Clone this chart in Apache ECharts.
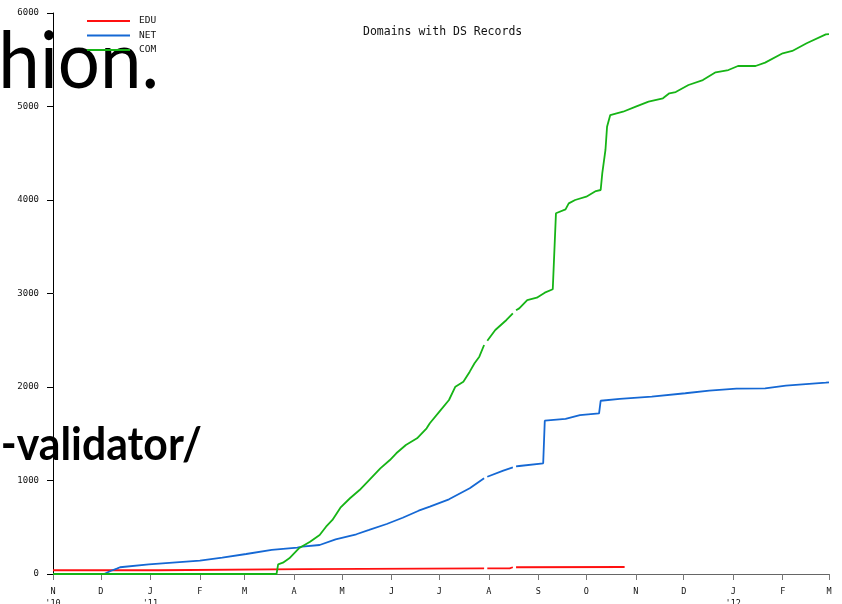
<!DOCTYPE html>
<html><head><meta charset="utf-8">
<script src="https://cdn.jsdelivr.net/npm/echarts@6/dist/echarts.min.js"></script>
<style>html,body{margin:0;padding:0;background:#fff}#c{width:842px;height:604px}</style>
</head><body><div id="c"></div>
<script>
const TITLE = 'Domains with DS Records';
const SERIES_NAMES = ['EDU', 'NET', 'COM'];
const X_TICK_LABELS = ["N\n'10", 'D', "J\n'11", 'F', 'M', 'A', 'M', 'J', 'J', 'A', 'S', 'O', 'N', 'D', "J\n'12", 'F', 'M'];
const X_START = '2010-11-01';
const X_END = '2012-03-01';
const OVERLAY_TEXT_1 = 'hion.';
const OVERLAY_TEXT_2 = '-validator/';

const EDU = [['2010-11-01',40],['2011-01-06',40],['2011-01-07',53],['2011-04-07',53],['2011-04-08',61],['2011-07-29',61],['2011-07-30',null],['2011-07-31',61],['2011-08-14',61],['2011-08-15',72],['2011-08-16',72],['2011-08-17',null],['2011-08-18',72],['2011-10-25',75]];

const NET = [['2010-12-03',0],['2010-12-07',32],['2010-12-11',57],['2010-12-13',72],['2010-12-31',104],['2011-02-01',142],['2011-02-15',174],['2011-03-02',214],['2011-03-18',257],['2011-04-03',281],['2011-04-06',292],['2011-04-17',310],['2011-04-27',371],['2011-05-10',425],['2011-05-18',471],['2011-05-29',535],['2011-06-08',602],['2011-06-18',677],['2011-06-25',720],['2011-07-07',799],['2011-07-20',917],['2011-07-29',1025],['2011-07-30',null],['2011-07-31',1040],['2011-08-10',1105],['2011-08-16',1140],['2011-08-17',null],['2011-08-18',1150],['2011-08-20',1155],['2011-09-04',1184],['2011-09-05',1640],['2011-09-18',1658],['2011-09-27',1700],['2011-10-09',1719],['2011-10-10',1853],['2011-10-22',1872],['2011-11-11',1897],['2011-12-02',1933],['2011-12-17',1961],['2012-01-03',1982],['2012-01-21',1986],['2012-02-03',2014],['2012-02-28',2046],['2012-03-01',2050]];

const COM = [['2010-11-01',0],['2011-03-21',0],['2011-03-22',104],['2011-03-25',121],['2011-03-29',168],['2011-04-04',275],['2011-04-11',345],['2011-04-17',417],['2011-04-21',506],['2011-04-25',578],['2011-04-30',709],['2011-05-06',810],['2011-05-12',898],['2011-05-18',1005],['2011-05-25',1130],['2011-05-31',1219],['2011-06-04',1291],['2011-06-10',1380],['2011-06-17',1451],['2011-06-23',1558],['2011-06-25',1612],['2011-07-01',1736],['2011-07-07',1861],['2011-07-11',2003],['2011-07-16',2057],['2011-07-20',2164],['2011-07-23',2254],['2011-07-26',2324],['2011-07-29',2449],['2011-07-30',null],['2011-07-31',2495],['2011-08-05',2610],['2011-08-12',2717],['2011-08-16',2788],['2011-08-17',null],['2011-08-18',2820],['2011-08-20',2841],['2011-08-25',2930],['2011-08-31',2955],['2011-09-05',3009],['2011-09-10',3045],['2011-09-12',3858],['2011-09-18',3900],['2011-09-20',3964],['2011-09-24',4000],['2011-10-01',4035],['2011-10-07',4096],['2011-10-10',4107],['2011-10-11',4285],['2011-10-13',4535],['2011-10-14',4784],['2011-10-16',4909],['2011-10-24',4944],['2011-11-01',4998],['2011-11-09',5052],['2011-11-18',5088],['2011-11-22',5141],['2011-11-26',5155],['2011-12-04',5230],['2011-12-13',5283],['2011-12-21',5366],['2011-12-29',5390],['2012-01-04',5433],['2012-01-15',5433],['2012-01-21',5469],['2012-02-01',5569],['2012-02-07',5594],['2012-02-16',5676],['2012-02-28',5772],['2012-03-01',5775]];

const COLORS = ['#ff1010', '#1568d4', '#16b416'];
const MONO = '"DejaVu Sans Mono", "Liberation Mono", monospace';
const DAY = 86400000;

const chart = echarts.init(document.getElementById('c'));
const startDate = new Date(2010, 10, 1);
function monthIndex(v) {
  const d = new Date(v);
  return (d.getFullYear() - startDate.getFullYear()) * 12 + d.getMonth() - startDate.getMonth();
}
const seriesData = [EDU, NET, COM];
chart.setOption({
  animation: false,
  backgroundColor: '#fff',
  graphic: [
    { type: 'text', z: -10, x: 159, y: 22, scaleX: 0.93, style: { text: OVERLAY_TEXT_1, font: '80px Lato', fill: '#000', align: 'right', verticalAlign: 'top' } },
    { type: 'text', z: -10, x: 202, y: 423, scaleX: 0.95, style: { text: OVERLAY_TEXT_2, font: 'bold 45px Lato', fill: '#000', align: 'right', verticalAlign: 'top' } }
  ],
  title: {
    text: TITLE, left: 363, top: 26, padding: 0,
    textStyle: { fontFamily: MONO, fontSize: 11.5, fontWeight: 'normal', color: '#111' }
  },
  legend: {
    data: SERIES_NAMES, orient: 'vertical', left: 87, top: 16, padding: 0,
    icon: 'rect', itemWidth: 43, itemHeight: 2, itemGap: 4.5,
    textStyle: { fontFamily: MONO, fontSize: 9.5, color: '#111', padding: [0, 0, 0, 4] }
  },
  grid: { left: 53, right: 13, top: 13, bottom: 30, containLabel: false, outerBoundsMode: 'none' },
  xAxis: {
    type: 'time', min: X_START, max: X_END, splitNumber: 16,
    minInterval: 28 * DAY, maxInterval: 31 * DAY,
    axisLine: { lineStyle: { color: '#666', width: 1 } },
    axisTick: { show: true, length: 6, lineStyle: { color: '#777' } },
    splitLine: { show: false },
    axisLabel: {
      fontFamily: MONO, fontSize: 8.5, color: '#111', margin: 12, lineHeight: 12,
      showMinLabel: true, showMaxLabel: true, hideOverlap: false,
      formatter: function (v) { const i = monthIndex(v); return X_TICK_LABELS[i] || ''; }
    }
  },
  yAxis: {
    type: 'value', min: 0, max: 6000, interval: 1000,
    axisLine: { show: true, lineStyle: { color: '#000', width: 1 } },
    axisTick: { show: true, length: 6, lineStyle: { color: '#000' } },
    splitLine: { show: false },
    axisLabel: { fontFamily: MONO, fontSize: 9, color: '#111', margin: 14, formatter: function (v) { return String(v); } }
  },
  series: SERIES_NAMES.map((n, i) => ({
    name: n, type: 'line', data: seriesData[i], showSymbol: false, symbol: 'none',
    connectNulls: false, color: COLORS[i],
    lineStyle: { width: 1.8, color: COLORS[i] }, z: 2 + i
  }))
});
</script></body></html>
